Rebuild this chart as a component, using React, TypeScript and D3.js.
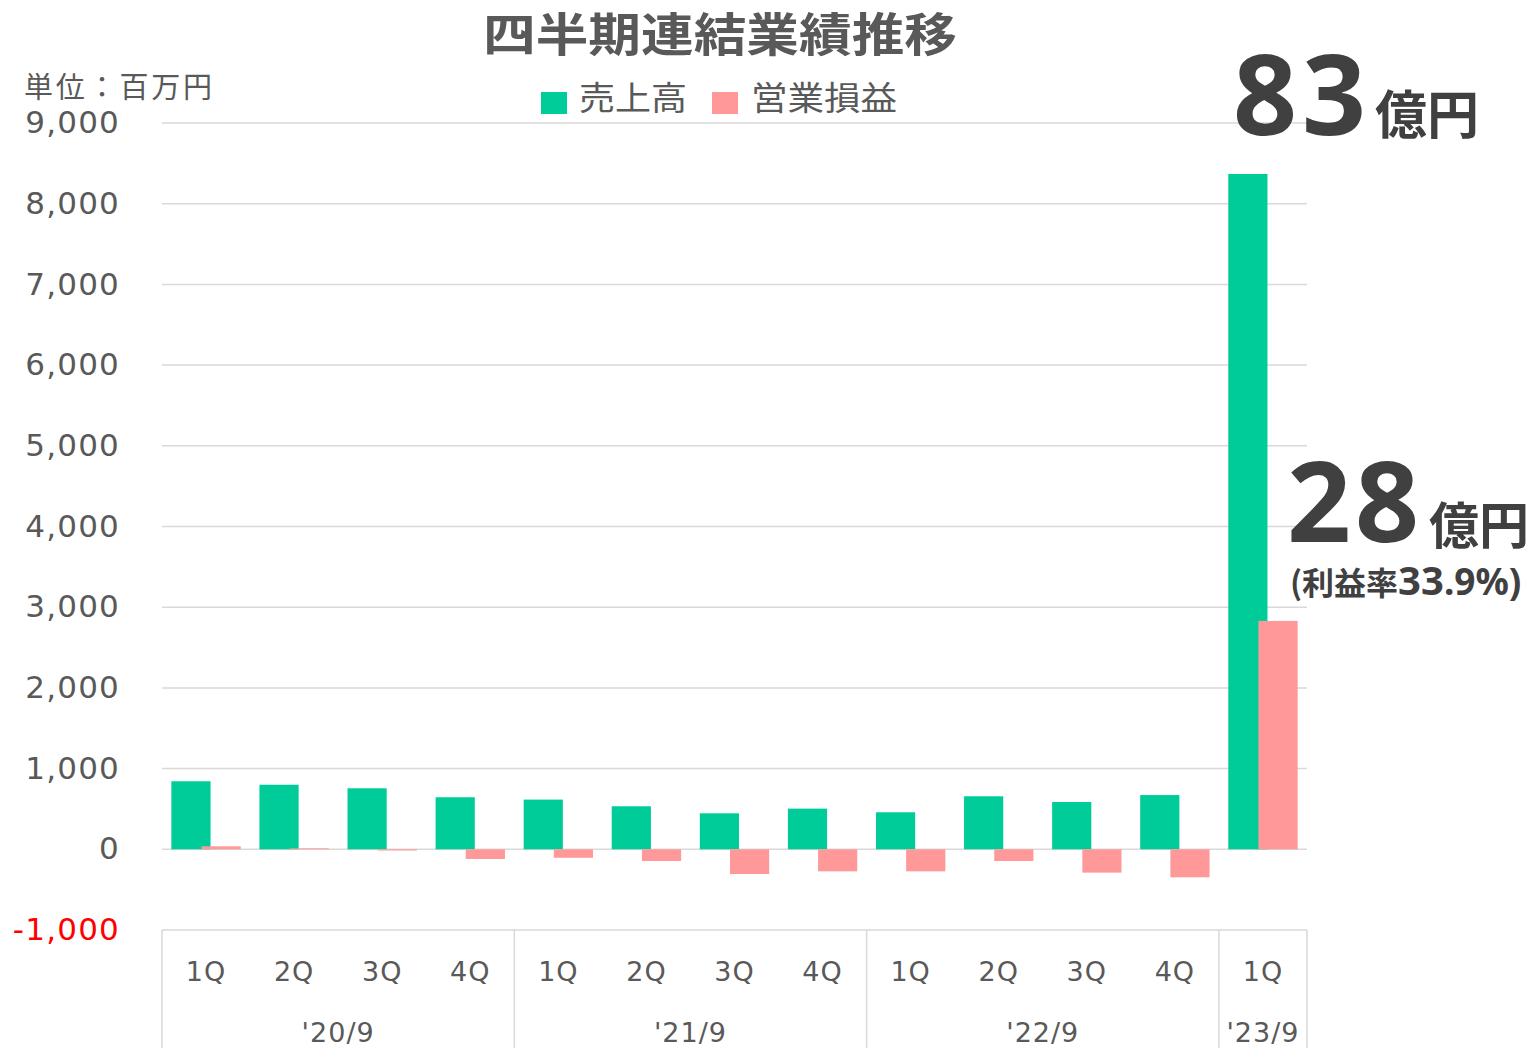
import React from "react";
import * as d3 from "d3";

const quarters = ["1Q", "2Q", "3Q", "4Q", "1Q", "2Q", "3Q", "4Q", "1Q", "2Q", "3Q", "4Q", "1Q"];
const fiscalYears = ["'20/9", "'21/9", "'22/9", "'23/9"];
const yearSpans = [4, 4, 4, 1];
const sales = [843, 800, 756, 645, 616, 533, 446, 504, 459, 657, 586, 672, 8368];
const operatingProfit = [37, 12, -15, -120, -105, -145, -306, -273, -273, -145, -289, -347, 2830];
const yTicks = [-1000, 0, 1000, 2000, 3000, 4000, 5000, 6000, 7000, 8000, 9000];
const seriesNames = ["売上高", "営業損益"];

const GREEN = "#00CC99";
const PINK = "#FF9999";
const GRAY = "#595959";
const DARK = "#404040";
const GRID = "#D9D9D9";
const JP = "'Noto Sans CJK JP', 'Noto Sans', sans-serif";
const NUM = "'DejaVu Sans', 'Noto Sans', sans-serif";
const BIG = "'Noto Sans', 'Noto Sans CJK JP', sans-serif";

export default function App() {
  const W = 1536, H = 1048;
  const left = 162, right = 1307;
  const idx = quarters.map((_, i) => String(i));
  const x = d3.scaleBand<string>().domain(idx).range([left, right]).padding(0);
  const y = d3.scaleLinear().domain([-1000, 9000]).range([930, 123]);
  const bw = x.bandwidth() * 0.445;
  const off = bw * 0.77 / 2;
  const fmt = (v: number) => d3.format(",")(v).replace("\u2212", "-");

  const bounds: number[] = [left];
  let acc = 0;
  yearSpans.forEach((s) => { acc += s; bounds.push(x(String(acc - 1))! + x.bandwidth()); });

  return (
    <div style={{ position: "absolute", left: 0, top: 0 }}>
      <svg width={W} height={H} viewBox={`0 0 ${W} ${H}`} style={{ display: "block", background: "#fff" }}>
        {/* title */}
        <text x={483} y={51} fontFamily={JP} fontWeight={700} fontSize={46} fill={GRAY}
          textLength={474} lengthAdjust="spacingAndGlyphs">四半期連結業績推移</text>
        <text x={24} y={98} fontFamily={JP} fontSize={29} fill={GRAY}
          textLength={188} lengthAdjust="spacing">単位：百万円</text>

        {/* legend */}
        <rect x={541} y={92} width={26} height={22} fill={GREEN} />
        <text x={579} y={110} fontFamily={JP} fontSize={33} fill={GRAY}
          textLength={108} lengthAdjust="spacingAndGlyphs">{seriesNames[0]}</text>
        <rect x={712} y={92} width={26} height={22} fill={PINK} />
        <text x={751} y={110} fontFamily={JP} fontSize={33} fill={GRAY}
          textLength={146} lengthAdjust="spacingAndGlyphs">{seriesNames[1]}</text>

        {/* gridlines */}
        {yTicks.map((t) => (
          <line key={"g" + t} x1={left} x2={right} y1={y(t)} y2={y(t)} stroke={GRID} strokeWidth={1.5} />
        ))}
        {/* tick labels */}
        {yTicks.map((t) => (
          <text key={"t" + t} x={120} y={y(t) - 1} dy="0.36em" textAnchor="end" fontFamily={NUM}
            fontSize={31} letterSpacing={1.2} fill={t < 0 ? "#FF0000" : GRAY}>{fmt(t)}</text>
        ))}

        {/* bars */}
        {sales.map((v, i) => {
          const cx = x(String(i))! + x.bandwidth() / 2;
          return <rect key={"s" + i} x={cx - off - bw / 2} width={bw}
            y={Math.min(y(v), y(0))} height={Math.abs(y(v) - y(0))} fill={GREEN} />;
        })}
        {operatingProfit.map((v, i) => {
          const cx = x(String(i))! + x.bandwidth() / 2;
          return <rect key={"p" + i} x={cx + off - bw / 2} width={bw}
            y={Math.min(y(v), y(0))} height={Math.abs(y(v) - y(0))} fill={PINK} />;
        })}

        {/* category axis box */}
        {bounds.map((b, i) => (
          <line key={"b" + i} x1={b} x2={b} y1={y(-1000)} y2={H} stroke={GRID} strokeWidth={1.5} />
        ))}
        {quarters.map((q, i) => (
          <text key={"q" + i} x={x(String(i))! + x.bandwidth() / 2} y={981} textAnchor="middle"
            fontFamily={NUM} fontSize={27} letterSpacing={1} fill={GRAY}>{q}</text>
        ))}
        {fiscalYears.map((fy, i) => (
          <text key={"fy" + i} x={(bounds[i] + bounds[i + 1]) / 2} y={1042} textAnchor="middle"
            fontFamily={NUM} fontSize={27} letterSpacing={1} fill={GRAY}>{fy}</text>
        ))}

        {/* annotations */}
        <text x={1233} y={135} fontFamily={BIG} fontWeight={700} fontSize={112} letterSpacing={5} fill={DARK}>83</text>
        <text x={1375} y={134} fontFamily={JP} fontWeight={700} fontSize={52} fill={DARK}>億円</text>
        <text x={1287} y={542} fontFamily={BIG} fontWeight={700} fontSize={112} letterSpacing={4} fill={DARK}>28</text>
        <text x={1429} y={544} fontFamily={JP} fontWeight={700} fontSize={50} fill={DARK}>億円</text>
        <text x={1290} y={595} fontFamily={JP} fontWeight={700} fontSize={32} fill={DARK}>
          <tspan>(利益率</tspan>
          <tspan fontFamily={BIG} fontSize={40}>33</tspan>
          <tspan fontFamily={BIG} fontSize={37}>.9%)</tspan>
        </text>
      </svg>
    </div>
  );
}
